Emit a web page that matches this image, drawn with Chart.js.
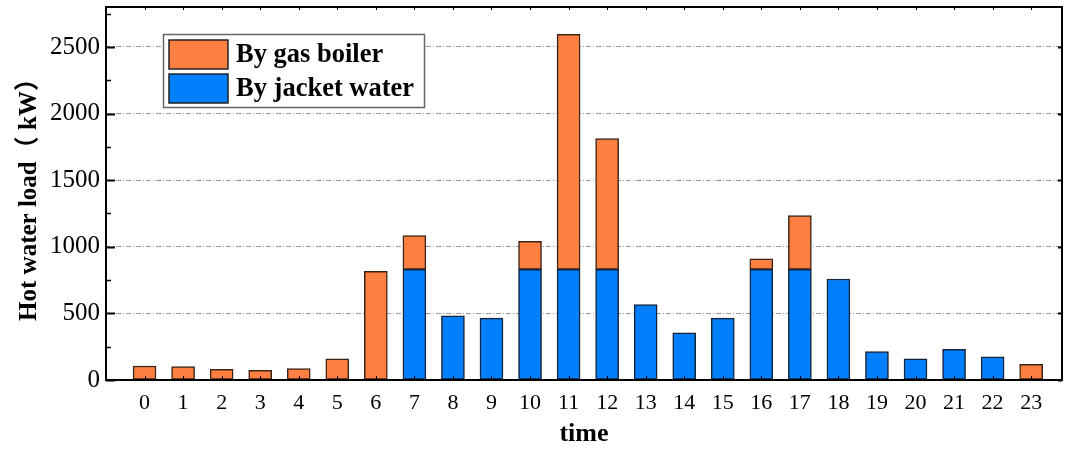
<!DOCTYPE html>
<html>
<head>
<meta charset="utf-8">
<script src="https://cdn.jsdelivr.net/npm/chart.js@4.4.0/dist/chart.umd.min.js"></script>
<style>
html, body { margin: 0; padding: 0; background: #fff; }
#wrap { width: 1065px; height: 450px; }
</style>
</head>
<body>
<div id="wrap"><canvas id="chart-hot-water"></canvas></div>
<script>
var hours = [0, 1, 2, 3, 4, 5, 6, 7, 8, 9, 10, 11, 12, 13, 14, 15, 16, 17, 18, 19, 20, 21, 22, 23];
var jacketWater = [0, 0, 0, 0, 0, 0, 0, 830, 482, 464, 830, 830, 830, 567, 354, 464, 830, 830, 758, 213, 158, 231, 173, 0];
var gasBoiler = [105, 100, 80, 73, 85, 158, 815, 255, 0, 0, 211, 1764, 983, 0, 0, 0, 80, 404, 0, 0, 0, 0, 0, 118];
var yTickValues = [0, 500, 1000, 1500, 2000, 2500];

var serif = '"Liberation Serif", "Times New Roman", "Noto Sans CJK SC", serif';

function toPoints(values) {
    return hours.map(function (h, i) {
        return { x: h, y: values[i] === 0 ? null : values[i] };
    });
}

// axis frame with inside ticks, like the origin plot
var framePlugin = {
    id: 'frame',
    afterDatasetsDraw: function (chart) {
        var ctx = chart.ctx, a = chart.chartArea;
        var xs = chart.scales.x, ys = chart.scales.y;
        ctx.save();
        ctx.strokeStyle = '#000';
        for (var v = 0; v <= ys.max; v += 250) {
            var py = Math.round(ys.getPixelForValue(v)) + 0.5;
            var major = yTickValues.indexOf(v) >= 0;
            ctx.lineWidth = major ? 2 : 1.5;
            ctx.beginPath();
            ctx.moveTo(a.left, py);
            ctx.lineTo(a.left + (major ? 9 : 5), py);
            if (major) {
                ctx.moveTo(a.right, py);
                ctx.lineTo(a.right - 4, py);
            }
            ctx.stroke();
        }
        ctx.lineWidth = 1;
        hours.forEach(function (h) {
            var px = Math.round(xs.getPixelForValue(h)) + 0.5;
            ctx.beginPath();
            ctx.moveTo(px, a.bottom);
            ctx.lineTo(px, a.bottom - 4);
            ctx.moveTo(px, a.top);
            ctx.lineTo(px, a.top + 3);
            ctx.stroke();
        });
        ctx.lineWidth = 2;
        ctx.strokeRect(a.left, a.top, a.right - a.left, a.bottom - a.top);
        ctx.restore();
    },
    afterDraw: function (chart) {
        var ctx = chart.ctx;
        var items = [chart.data.datasets[1], chart.data.datasets[0]];
        ctx.save();
        ctx.fillStyle = '#fff';
        ctx.fillRect(163, 34, 261, 73);
        ctx.strokeStyle = '#666';
        ctx.lineWidth = 1.5;
        ctx.strokeRect(163.5, 34.5, 261, 73);
        items.forEach(function (ds, i) {
            var y = 40 + i * 34;
            ctx.fillStyle = ds.backgroundColor;
            ctx.fillRect(169, y, 59, 29);
            ctx.strokeStyle = '#222';
            ctx.lineWidth = 1.5;
            ctx.strokeRect(169, y, 59, 29);
            ctx.fillStyle = '#000';
            ctx.font = 'bold 26.5px ' + serif;
            ctx.textBaseline = 'middle';
            ctx.fillText(ds.label, 236, y + 15);
        });
        ctx.restore();
    }
};

var ctx = document.getElementById('chart-hot-water');
var hotWaterChart = new Chart(ctx, {
    type: 'bar',
    data: {
        datasets: [
            {
                label: 'By jacket water',
                data: toPoints(jacketWater),
                backgroundColor: '#0080FF',
                borderColor: '#14243a',
                borderWidth: 1.5,
                borderSkipped: false,
                barThickness: 23
            },
            {
                label: 'By gas boiler',
                data: toPoints(gasBoiler),
                backgroundColor: '#FF8040',
                borderColor: '#3a2418',
                borderWidth: 1.5,
                borderSkipped: false,
                barThickness: 23
            }
        ]
    },
    options: {
        responsive: true,
        maintainAspectRatio: false,
        animation: false,
        layout: { padding: { top: 7, right: 3, left: 0, bottom: 0 } },
        plugins: {
            legend: { display: false },
            tooltip: { enabled: false }
        },
        scales: {
            x: {
                type: 'linear',
                stacked: true,
                offset: false,
                min: -1,
                max: 23.8,
                afterBuildTicks: function (s) {
                    s.ticks = hours.map(function (h) { return { value: h }; });
                },
                afterFit: function (s) {
                    s.height = 70;
                    s.paddingLeft = 0;
                    s.paddingRight = 0;
                },
                grid: { display: false, drawTicks: false },
                border: { display: false },
                ticks: {
                    autoSkip: false,
                    maxRotation: 0,
                    padding: 10,
                    color: '#000',
                    font: { family: serif, size: 22 }
                },
                title: {
                    display: true,
                    text: 'time',
                    color: '#000',
                    padding: { top: 0, bottom: 0 },
                    font: { family: serif, size: 26, weight: 'bold' }
                }
            },
            y: {
                stacked: true,
                min: 0,
                max: 2800,
                afterBuildTicks: function (s) {
                    s.ticks = yTickValues.map(function (v) { return { value: v }; });
                },
                afterFit: function (s) {
                    s.width = 106;
                    s.paddingTop = 0;
                    s.paddingBottom = 0;
                },
                grid: {
                    drawTicks: false,
                    color: function (c) {
                        return c.tick.value > 0 ? '#9a9a9a' : 'rgba(0,0,0,0)';
                    },
                    lineWidth: 1
                },
                border: { display: false, dash: [5, 2, 1, 2] },
                ticks: {
                    padding: 6,
                    color: '#000',
                    font: { family: serif, size: 25 },
                    callback: function (v) { return String(v); }
                },
                title: {
                    display: true,
                    text: 'Hot water load（ kW）',
                    color: '#000',
                    padding: { top: 15, bottom: 0 },
                    font: { family: '"Liberation Serif", "Noto Sans CJK TC", serif', size: 25, weight: 'bold' }
                }
            }
        }
    },
    plugins: [framePlugin]
});
</script>
</body>
</html>
